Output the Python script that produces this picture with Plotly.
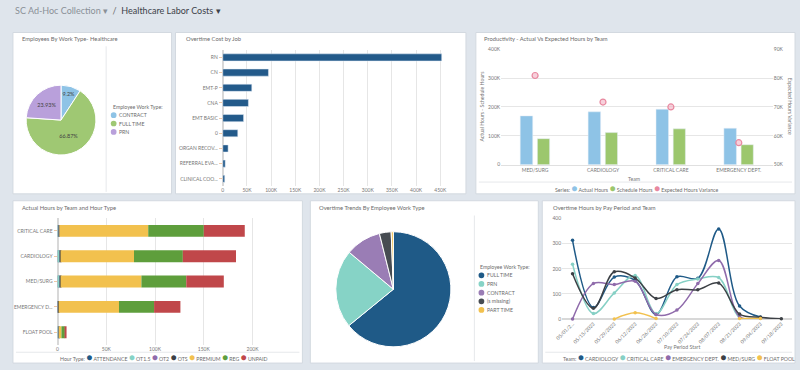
import numpy as np
import plotly.graph_objects as go

W, H = 800, 370
def px(x): return x / W
def py(y): return 1 - y / H

FONT = "Lato"
TICK = dict(family=FONT, size=5, color="#777")

# ---------------- data ----------------
# Panel 1: Employees by work type
emp_types = ["CONTRACT", "FULL TIME", "PRN"]
emp_share = [9.2, 66.87, 23.93]
emp_colors = ["#8ec3e6", "#9fc873", "#b9a0db"]

# Panel 2: Overtime cost by job
jobs = ["RN", "CN", "EMT-P", "CNA", "EMT BASIC", "0", "ORGAN RECOV...", "REFERRAL EVA...", "CLINICAL COO..."]
ot_cost = [453000, 94500, 60000, 53000, 43000, 31000, 11000, 5000, 4000]
cost_ticks = [0, 50000, 100000, 150000, 200000, 250000, 300000, 350000, 400000, 450000]
cost_ticktext = ["0", "50K", "100K", "150K", "200K", "250K", "300K", "350K", "400K", "450K"]

# Panel 3: Productivity
teams = ["MED/SURG", "CARDIOLOGY", "CRITICAL CARE", "EMERGENCY DEPT."]
actual_hours = [169000, 183000, 192000, 126000]
schedule_hours = [90000, 111000, 124000, 69000]
expected_var = [80900, 71700, 70000, 57600]
prod_series = ["Actual Hours", "Schedule Hours", "Expected Hours Variance"]
prod_colors = ["#8ec3e6", "#9cc76d", "#e8889f"]
left_ticks = [0, 100000, 200000, 300000, 400000]
left_ticktext = ["0", "100K", "200K", "300K", "400K"]
right_ticks = [50000, 60000, 70000, 80000, 90000]
right_ticktext = ["50K", "60K", "70K", "80K", "90K"]

# Panel 4: Actual hours by team and hour type
teams4 = ["CRITICAL CARE", "CARDIOLOGY", "MED/SURG", "EMERGENCY D...", "FLOAT POOL"]
hour_types = ["ATTENDANCE", "OT1.5", "OT2", "OTS", "PREMIUM", "REG", "UNPAID"]
hour_colors = ["#1f5a87", "#86d3c6", "#8f6bab", "#3c4045", "#f2c14e", "#5e9e3c", "#c0474a"]
hours_attendance = [300, 500, 500, 200, 300]
hours_ot15 = [1000, 2000, 2000, 500, 800]
hours_ot2 = [300, 300, 300, 200, 100]
hours_ots = [300, 300, 300, 200, 100]
hours_premium = [91100, 75300, 82900, 61900, 2700]
hours_reg = [57000, 50100, 46000, 36000, 3500]
hours_unpaid = [42000, 54500, 38500, 27000, 1500]
hours_ticks = [0, 50000, 100000, 150000, 200000]
hours_ticktext = ["0", "50K", "100K", "150K", "200K"]

# Panel 5: Overtime trends by employee work type
ot_types = ["FULL TIME", "PRN", "CONTRACT", "(s missing)", "PART TIME"]
ot_share = [64.1, 22.0, 10.0, 3.3, 0.6]
ot_colors = ["#1f5a87", "#86d3c6", "#9a7db5", "#474c52", "#f2c14e"]

# Panel 6: Overtime hours by pay period and team
periods = ["05/01/2023", "05/15/2023", "05/29/2023", "06/12/2023", "06/26/2023", "07/10/2023",
           "07/24/2023", "08/07/2023", "08/21/2023", "09/04/2023", "09/18/2023"]
period_labels = ["05/01/2...", "05/15/2023", "05/29/2023", "06/12/2023", "06/26/2023", "07/10/2023",
                 "07/24/2023", "08/07/2023", "08/21/2023", "09/04/2023", "09/18/2023"]
line_teams = ["CARDIOLOGY", "CRITICAL CARE", "EMERGENCY DEPT.", "MED/SURG", "FLOAT POOL"]
line_colors = ["#1f5a87", "#86d0c5", "#8f6bab", "#3c4045", "#f2c14e"]
ot_cardiology = [313, 46, 167, 154, 18, 168, 162, 358, 52, 8, None]
ot_critical = [218, 22, 104, 173, 22, 137, 159, 165, 6, 4, None]
ot_emergency = [0, 141, 137, 150, 18, 36, 141, 233, 10, 3, None]
ot_medsurg = [180, 43, 188, 163, 82, 117, 117, 143, 20, 7, 1]
ot_floatpool = [None, None, 0, 25, 2, None, None, None, 2, 2, None]
line_ticks = [0, 100, 200, 300, 400]

# ---------------- figure ----------------
fig = go.Figure()

# Panel 1 pie
fig.add_trace(go.Pie(
    labels=emp_types, values=emp_share, sort=False, direction="clockwise", rotation=0,
    marker=dict(colors=emp_colors, line=dict(color="white", width=1)),
    texttemplate="%{value}%", textposition="inside", insidetextorientation="horizontal",
    textfont=dict(family=FONT, size=5.5, color="#444"),
    domain=dict(x=[px(19), px(90)], y=[py(154.5), py(83.5)]), showlegend=False, hoverinfo="label+percent"))

# Panel 2 bars
fig.add_trace(go.Bar(x=ot_cost, y=jobs, orientation="h", width=0.47,
                     marker=dict(color="#235a8a"), xaxis="x2", yaxis="y2", showlegend=False))

# Panel 3 grouped bars + variance markers
fig.add_trace(go.Bar(x=teams, y=actual_hours, width=0.184, offset=-0.219, name=prod_series[0],
                     marker=dict(color=prod_colors[0]), xaxis="x3", yaxis="y3", showlegend=False))
fig.add_trace(go.Bar(x=teams, y=schedule_hours, width=0.18, offset=0.034, name=prod_series[1],
                     marker=dict(color=prod_colors[1]), xaxis="x3", yaxis="y3", showlegend=False))
fig.add_trace(go.Scatter(x=teams, y=expected_var, mode="markers", name=prod_series[2],
                         marker=dict(size=6, color="rgba(240,170,190,0.55)", line=dict(color="#e8889f", width=1.2)),
                         xaxis="x3", yaxis="y4", showlegend=False, cliponaxis=False))

# Panel 4 stacked horizontal bars
stack = np.array([hours_attendance, hours_ot15, hours_ot2, hours_ots, hours_premium, hours_reg, hours_unpaid], dtype=float)
bases = np.vstack([np.zeros(stack.shape[1]), np.cumsum(stack, axis=0)[:-1]])
for i, name in enumerate(hour_types):
    fig.add_trace(go.Bar(x=stack[i], y=teams4, base=bases[i], orientation="h", width=0.47,
                         offsetgroup="hours", name=name, marker=dict(color=hour_colors[i], line=dict(width=0)),
                         xaxis="x4", yaxis="y5", showlegend=False))

# Panel 5 pie
fig.add_trace(go.Pie(
    labels=ot_types, values=ot_share, sort=False, direction="clockwise", rotation=0,
    marker=dict(colors=ot_colors, line=dict(color="white", width=1)),
    textinfo="none", domain=dict(x=[px(331.5), px(448)], y=[py(349.5), py(232.5)]), showlegend=False))

# Panel 6 lines
for name, vals, col in zip(line_teams, [ot_cardiology, ot_critical, ot_emergency, ot_medsurg, ot_floatpool], line_colors):
    fig.add_trace(go.Scatter(x=periods, y=vals, mode="lines+markers", name=name,
                             line=dict(color=col, width=1.5, shape="spline", smoothing=1.0),
                             marker=dict(size=3.5, color=col), connectgaps=False, cliponaxis=False,
                             xaxis="x5", yaxis="y6", showlegend=False))

# ---------------- shapes ----------------
panels = [(6, 30, 166, 194), (170, 30, 463, 194), (473, 30, 795, 194),
          (6, 201, 298, 366), (306, 201, 536, 366), (540, 201, 795, 366)]
shapes = []
for x0, y0, x1, y1 in panels:
    shapes.append(dict(type="rect", xref="paper", yref="paper", x0=px(x0), x1=px(x1), y0=py(y1), y1=py(y0),
                       fillcolor="white", line=dict(color="#d3d9e0", width=1), layer="below"))
sep = "#e6e8eb"
shapes += [
    dict(type="line", xref="paper", yref="paper", x0=px(100), x1=px(100), y0=py(192), y1=py(44), line=dict(color=sep, width=1), layer="below"),
    dict(type="line", xref="paper", yref="paper", x0=px(476), x1=px(792), y0=py(182), y1=py(182), line=dict(color=sep, width=1), layer="below"),
    dict(type="line", xref="paper", yref="paper", x0=px(9), x1=px(295), y0=py(355), y1=py(355), line=dict(color=sep, width=1), layer="below"),
    dict(type="line", xref="paper", yref="paper", x0=px(471.5), x1=px(471.5), y0=py(364), y1=py(216), line=dict(color=sep, width=1), layer="below"),
    dict(type="line", xref="paper", yref="paper", x0=px(543), x1=px(792), y0=py(355), y1=py(355), line=dict(color=sep, width=1), layer="below"),
]

def legend_dot(cx, cy, color, r=2.9):
    return dict(type="circle", xref="paper", yref="paper", x0=px(cx - r), x1=px(cx + r),
                y0=py(cy + r), y1=py(cy - r), fillcolor=color, line=dict(width=0))

# ---------------- annotations ----------------
def ann(text, x, y, size=5.8, color="#6b6b6b", xanchor="left", yanchor="middle", **kw):
    d = dict(text=text, x=px(x), y=py(y), xref="paper", yref="paper", showarrow=False,
             xanchor=xanchor, yanchor=yanchor, font=dict(family=FONT, size=size, color=color))
    d.update(kw)
    return d

def dot(c, s=10):
    return f"<span style='color:{c};font-size:{s}px'>●</span>"

def hlegend(title, names, colors):
    return title + "\u00a0" + "\u00a0".join(f"{dot(c)}\u00a0{n}" for n, c in zip(names, colors))

LEG = 5.2
annotations = [
    ann("<span style='color:#8a9097'>SC Ad-Hoc Collection ▾</span>\u00a0\u00a0/\u00a0\u00a0"
        "<span style='color:#3d4249'>Healthcare Labor Costs ▾</span>", 6, 8, size=9),
    ann("Employees By Work Type- Healthcare", 13, 36),
    ann("Overtime Cost by Job", 179, 36),
    ann("Productivity - Actual Vs Expected Hours by Team", 479, 36),
    ann("Actual Hours by Team and Hour Type", 13, 207.5),
    ann("Overtime Trends By Employee Work Type", 313, 207.5),
    ann("Overtime Hours by Pay Period and Team", 549, 207.5),
    # axis titles
    ann("Actual Hours - Schedule Hours", 479.5, 105, size=5.2, color="#777", xanchor="center", textangle=-90),
    ann("Expected Hours Variance", 789.5, 105, size=5.2, color="#777", xanchor="center", textangle=90),
    ann("Team", 633, 178.5, size=5.2, color="#777", xanchor="center"),
    ann("Pay Period Start", 681, 349.5, size=5.2, color="#777", xanchor="center"),
    # horizontal legends
    ann(hlegend("Series:", prod_series, prod_colors), 551, 188.5, size=LEG),
    ann(hlegend("Hour Type:", hour_types, hour_colors), 51, 360, size=LEG),
    ann(hlegend("Team:", line_teams, line_colors), 559, 360, size=LEG),
    # vertical legend titles
    ann("Employee Work Type:", 104.5, 105.3, size=LEG),
    ann("Employee Work Type:", 475.5, 268.3, size=LEG),
]
for i, (n, c) in enumerate(zip(emp_types, emp_colors)):
    yy = 114 + 8.5 * i
    shapes.append(legend_dot(107.6, yy, c))
    annotations.append(ann(n, 111, yy, size=LEG))
for i, (n, c) in enumerate(zip(ot_types, ot_colors)):
    yy = 276.8 + 8.8 * i
    shapes.append(legend_dot(478.6, yy, c))
    annotations.append(ann(n, 482.5, yy, size=LEG))

grid = "#e6e6e6"
fig.update_layout(
    width=W, height=H, margin=dict(l=0, r=0, t=0, b=0),
    paper_bgcolor="#dfe5ec", plot_bgcolor="rgba(0,0,0,0)",
    font=dict(family=FONT, size=6, color="#666"),
    barmode="group", showlegend=False,
    shapes=shapes, annotations=annotations,
    xaxis2=dict(domain=[px(217.7), px(460)], anchor="y2", range=[0, 497000], tickvals=cost_ticks,
                ticktext=cost_ticktext, showgrid=True, gridcolor=grid, zeroline=True, zerolinecolor="#d8d8d8",
                tickfont=TICK, fixedrange=True),
    yaxis2=dict(domain=[py(186.4), py(47.6)], anchor="x2", type="category", range=[8.5, -0.5],
                showgrid=False, tickfont=TICK, ticks="outside", ticklen=3, tickcolor="#f0c9a8", fixedrange=True),
    xaxis3=dict(domain=[px(498.5), px(772.5)], anchor="y3", type="category", range=[-0.5, 3.5],
                showgrid=False, tickfont=TICK, showline=True, linecolor="#e0e0e0", fixedrange=True),
    yaxis3=dict(domain=[py(164.3), py(47)], anchor="x3", range=[0, 400000], tickvals=left_ticks,
                ticktext=left_ticktext, showgrid=True, gridcolor=grid, zeroline=False, tickfont=TICK, fixedrange=True),
    yaxis4=dict(overlaying="y3", anchor="x3", side="right", range=[50000, 90000], tickvals=right_ticks,
                ticktext=right_ticktext, showgrid=False, zeroline=False, tickfont=TICK, fixedrange=True),
    xaxis4=dict(domain=[px(51), px(292)], anchor="y5", range=[0, 245000], tickvals=hours_ticks,
                ticktext=hours_ticktext, showgrid=True, gridcolor=grid, zeroline=True, zerolinecolor="#d8d8d8",
                tickfont=TICK, fixedrange=True),
    yaxis5=dict(domain=[py(347.5), py(218.8)], anchor="x4", type="category", range=[4.5, -0.5],
                showgrid=False, tickfont=TICK, ticks="outside", ticklen=3, tickcolor="#f0c9a8", fixedrange=True),
    xaxis5=dict(domain=[px(560), px(791.7)], anchor="y6", type="category", range=[-0.5, 10.5],
                tickvals=periods, ticktext=period_labels, tickangle=-45, showgrid=False,
                tickfont=dict(family=FONT, size=5, color="#777"), fixedrange=True),
    yaxis6=dict(domain=[py(321.3), py(219)], anchor="x5", range=[0, 400], tickvals=line_ticks,
                showgrid=True, gridcolor=grid, zeroline=True, zerolinecolor="#d8d8d8", tickfont=TICK, fixedrange=True),
)

fix_js = ("var s=document.createElement('style');"
          "s.innerHTML='html,body{margin:0!important;padding:0!important;overflow:hidden;background:#dfe5ec;}';"
          "document.head.appendChild(s);document.body.style.margin='0px';")
fig.write_html("out.html", config={"displayModeBar": False}, post_script=fix_js)
